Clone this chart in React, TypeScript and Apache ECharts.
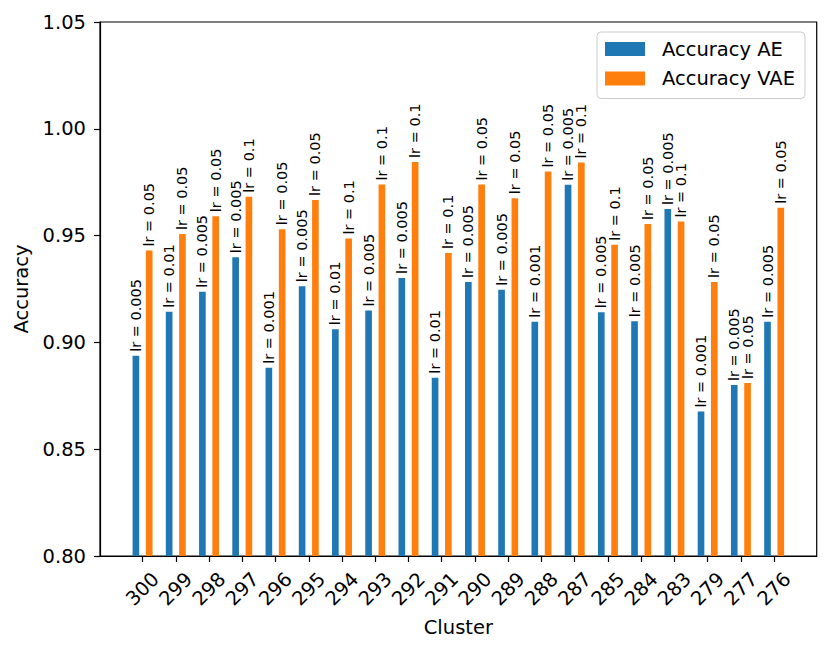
import React, { useEffect, useRef } from "react";
import * as echarts from "echarts";

const categories = ["300", "299", "298", "297", "296", "295", "294", "293", "292", "291", "290", "289", "288", "287", "285", "284", "283", "279", "277", "276"];
const accuracyAE = [0.8937, 0.9143, 0.9237, 0.9399, 0.8881, 0.9263, 0.9062, 0.9149, 0.9302, 0.8835, 0.9283, 0.9246, 0.9097, 0.9738, 0.9141, 0.9099, 0.9624, 0.8676, 0.8800, 0.9097];
const accuracyVAE = [0.9430, 0.9507, 0.9591, 0.9682, 0.9530, 0.9667, 0.9486, 0.9739, 0.9845, 0.9418, 0.9739, 0.9675, 0.9800, 0.9842, 0.9457, 0.9554, 0.9566, 0.9283, 0.8810, 0.9630];
const lrAE = ["0.005", "0.01", "0.005", "0.005", "0.001", "0.005", "0.01", "0.005", "0.005", "0.01", "0.005", "0.005", "0.001", "0.005", "0.005", "0.005", "0.005", "0.001", "0.005", "0.005"];
const lrVAE = ["0.05", "0.05", "0.05", "0.1", "0.05", "0.05", "0.1", "0.1", "0.1", "0.1", "0.05", "0.05", "0.05", "0.1", "0.1", "0.05", "0.1", "0.05", "0.05", "0.05"];
const yTicks = { min: 0.8, max: 1.05, step: 0.05 };

const FONT = "DejaVu Sans";
const BAR_OFFSET = 0.2;

export default function App() {
  const ref = useRef<HTMLDivElement>(null);
  useEffect(() => {
    if (!ref.current) return;
    const chart = echarts.init(ref.current, null, { renderer: "svg" });
    const idx = categories.map((_, i) => i);
    const label = (lrs: string[]) => ({
      show: true,
      position: "top",
      rotate: 90,
      align: "left",
      verticalAlign: "middle",
      distance: 4,
      fontSize: 14.5,
      fontFamily: FONT,
      color: "#000",
      formatter: (p: any) => "lr = " + lrs[p.dataIndex],
    });
    chart.setOption({
      animation: false,
      grid: {
        left: 100,
        right: 14.3,
        top: 22,
        bottom: 97,
        show: true,
        borderColor: "#000",
        borderWidth: 1.2,
        backgroundColor: "#fff",
      },
      legend: {
        data: ["Accuracy AE", "Accuracy VAE"],
        orient: "vertical",
        left: 597,
        top: 32,
        padding: [7, 10, 10, 8],
        itemWidth: 40,
        itemHeight: 14,
        itemGap: 9.5,
        icon: "rect",
        backgroundColor: "rgba(255,255,255,0.8)",
        borderColor: "#cccccc",
        borderWidth: 1,
        borderRadius: 4,
        textStyle: { fontSize: 19.5, fontFamily: FONT, color: "#000", padding: [0, 0, 0, 12] },
      },
      xAxis: {
        type: "value",
        min: -1.28,
        max: 20.28,
        name: "Cluster",
        nameLocation: "middle",
        nameGap: 61,
        nameTextStyle: { fontSize: 19.5, fontFamily: FONT, color: "#000" },
        axisLine: { show: true, onZero: false, lineStyle: { color: "#000", width: 1.2 } },
        axisTick: { show: true, length: 6, customValues: idx, lineStyle: { color: "#000", width: 1.2 } },
        axisLabel: {
          customValues: idx,
          rotate: 45,
          align: "center",
          verticalAlign: "middle",
          margin: 33,
          fontSize: 19.5,
          fontFamily: FONT,
          color: "#000",
          formatter: (v: number) => categories[Math.round(v)] ?? "",
        },
        splitLine: { show: false },
      },
      yAxis: {
        type: "value",
        min: yTicks.min,
        max: yTicks.max,
        interval: yTicks.step,
        name: "Accuracy",
        nameLocation: "middle",
        nameGap: 64,
        nameTextStyle: { fontSize: 19.5, fontFamily: FONT, color: "#000" },
        axisLine: { show: true, onZero: false, lineStyle: { color: "#000", width: 1.2 } },
        axisTick: { show: true, length: 6, lineStyle: { color: "#000", width: 1.2 } },
        axisLabel: {
          margin: 14,
          fontSize: 19.5,
          fontFamily: FONT,
          color: "#000",
          formatter: (v: number) => v.toFixed(2),
        },
        splitLine: { show: false },
      },
      series: [
        {
          name: "Accuracy AE",
          type: "bar",
          barWidth: 6.65,
          barGap: "-100%",
          itemStyle: { color: "#1f77b4" },
          data: accuracyAE.map((v, i) => [i - BAR_OFFSET, v]),
          label: label(lrAE),
        },
        {
          name: "Accuracy VAE",
          type: "bar",
          barWidth: 6.65,
          barGap: "-100%",
          itemStyle: { color: "#ff7f0e" },
          data: accuracyVAE.map((v, i) => [i + BAR_OFFSET, v]),
          label: label(lrVAE),
        },
      ],
    });
    return () => chart.dispose();
  }, []);
  return (
    <div
      ref={ref}
      style={{ position: "absolute", left: 0, top: 0, width: 831, height: 653, background: "#fff" }}
    />
  );
}
